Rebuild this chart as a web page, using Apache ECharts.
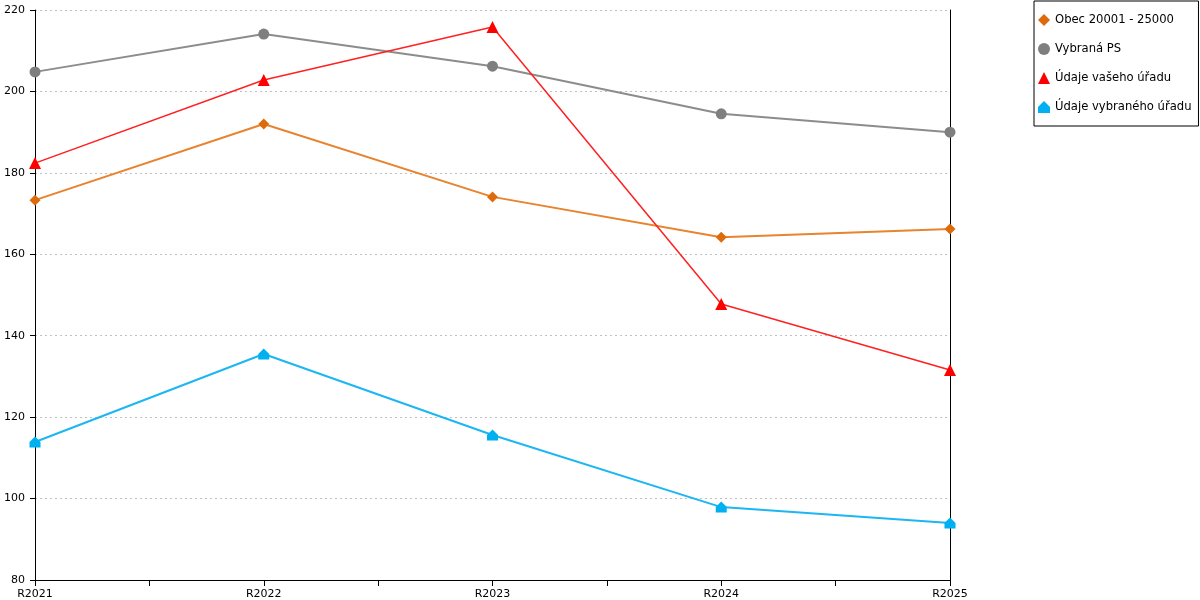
<!DOCTYPE html>
<html>
<head>
<meta charset="utf-8">
<script src="https://cdn.jsdelivr.net/npm/echarts@6/dist/echarts.min.js"></script>
<style>
  html, body { margin: 0; padding: 0; background: #fff; }
  #chart { width: 1200px; height: 600px; }
</style>
</head>
<body>
<div id="chart"></div>
<script>
var categories = ['R2021', 'R2022', 'R2023', 'R2024', 'R2025'];
var obecValues = [173.3, 192.0, 174.1, 164.2, 166.2];
var vybranaPsValues = [204.8, 214.1, 206.2, 194.5, 190.0];
var vasUradValues = [182.4, 202.8, 215.8, 147.8, 131.6];
var vybranyUradValues = [113.9, 135.5, 115.6, 97.9, 94.0];
var seriesNames = ['Obec 20001 - 25000', 'Vybraná PS', 'Údaje vašeho úřadu', 'Údaje vybraného úřadu'];

// ticks on the categories and halfway between them
var tickSlots = ['', '', '', '', '', '', '', '', ''];

var housePath = 'path://M5,0 L10,5 L10,10 L0,10 L0,5 Z';
var font = 'DejaVu Sans, Verdana, sans-serif';

var dom = document.getElementById('chart');
var myChart = echarts.init(dom);

var option = {
  backgroundColor: '#fff',
  animation: false,
  textStyle: { fontFamily: font },
  grid: { left: 35, right: 250, top: 10, bottom: 20, containLabel: false },
  legend: {
    orient: 'vertical',
    left: 1034,
    top: 1,
    padding: [13, 7, 13, 4],
    itemGap: 17,
    itemWidth: 12,
    itemHeight: 12,
    borderColor: '#000',
    borderWidth: 1,
    textStyle: { fontFamily: font, fontSize: 11.6, color: '#000' },
    data: [
      { name: seriesNames[0], icon: 'diamond' },
      { name: seriesNames[1], icon: 'circle' },
      { name: seriesNames[2], icon: 'triangle' },
      { name: seriesNames[3], icon: housePath }
    ]
  },
  xAxis: [
    {
      type: 'category',
      data: categories,
      boundaryGap: false,
      axisLine: { lineStyle: { color: '#000', width: 1 } },
      axisTick: { show: false },
      axisLabel: { color: '#000', fontSize: 11, fontFamily: font, margin: 9 },
      splitLine: { show: false }
    },
    {
      type: 'category',
      data: tickSlots,
      boundaryGap: false,
      position: 'bottom',
      axisLine: { show: true, lineStyle: { color: '#000' } },
      axisTick: { show: true, interval: 0, length: 6, lineStyle: { color: '#000' } },
      axisLabel: { show: false },
      splitLine: { show: false }
    }
  ],
  yAxis: [
    {
      type: 'value',
      min: 80,
      max: 220,
      interval: 20,
      axisLine: { show: true, lineStyle: { color: '#000' } },
      axisTick: { show: true, length: 5, lineStyle: { color: '#000' } },
      axisLabel: { color: '#000', fontSize: 11, fontFamily: font, margin: 10 },
      splitLine: { show: true, lineStyle: { color: '#c0c0c0', type: [2, 3] } }
    },
    {
      type: 'value',
      position: 'right',
      min: 80,
      max: 220,
      interval: 20,
      axisLine: { show: true, lineStyle: { color: '#000' } },
      axisTick: { show: false },
      axisLabel: { show: false },
      splitLine: { show: false }
    }
  ],
  series: [
    {
      name: seriesNames[0],
      type: 'line',
      data: obecValues,
      symbol: 'diamond',
      symbolSize: 11,
      itemStyle: { color: '#dd6b0c' },
      lineStyle: { color: '#e8832f', width: 2 }
    },
    {
      name: seriesNames[1],
      type: 'line',
      data: vybranaPsValues,
      symbol: 'circle',
      symbolSize: 11,
      itemStyle: { color: '#7f7f7f' },
      lineStyle: { color: '#8c8c8c', width: 2 }
    },
    {
      name: seriesNames[2],
      type: 'line',
      data: vasUradValues,
      symbol: 'triangle',
      symbolSize: 12,
      itemStyle: { color: '#ff0000' },
      lineStyle: { color: '#ff2020', width: 1.5 }
    },
    {
      name: seriesNames[3],
      type: 'line',
      data: vybranyUradValues,
      symbol: housePath,
      symbolSize: 11,
      itemStyle: { color: '#00b0f0' },
      lineStyle: { color: '#1cb6f2', width: 2 }
    }
  ]
};

if (option && typeof option === 'object') {
  myChart.setOption(option, true);
}
</script>
</body>
</html>
